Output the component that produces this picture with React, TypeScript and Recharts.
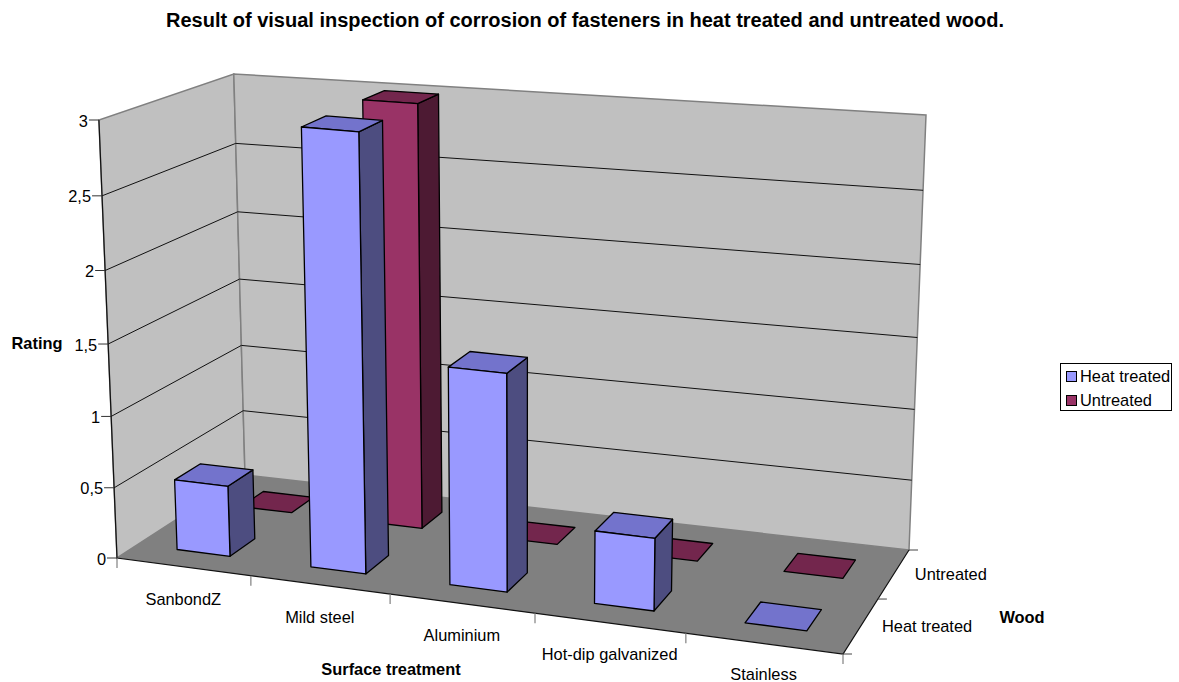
import React from "react";
import { BarChart, Bar, XAxis, YAxis, Legend, Customized } from "recharts";

const categories = ["SanbondZ", "Mild steel", "Aluminium", "Hot-dip galvanized", "Stainless"];
const heatTreated = [0.5, 3, 1.5, 0.5, 0];
const untreated = [0, 3, 0, 0, 0];
const ratingTicks = [0, 0.5, 1, 1.5, 2, 2.5, 3];
const woods = ["Heat treated", "Untreated"];

const chartData = categories.map((name, i) => ({
  name,
  heat: heatTreated[i],
  untreated: untreated[i],
}));

const WIDTH = 1179;
const HEIGHT = 682;
const FONT = "'Liberation Sans', Arial, sans-serif";
const FONT_SIZE = 16.4;
const MAX_RATING = 3;

// flat plot box that recharts scales into, it gets mapped onto the 3d box below
const PLOT = { left: 50, top: 50, width: 1000, height: 600 };
const AXIS_SIZE = 1;
const MARGIN = {
  left: PLOT.left - AXIS_SIZE,
  top: PLOT.top,
  right: WIDTH - PLOT.left - PLOT.width,
  bottom: HEIGHT - PLOT.top - PLOT.height - AXIS_SIZE,
};

type Pt = [number, number];

// corners go front-left, front-right, back-right, back-left
const FLOOR: Pt[] = [[117, 558], [843, 654], [909, 550], [245, 475]];
const BOX_HEIGHTS = [438, 465, 435, 401];
const VANISH: Pt = [523, 10400];
const HEIGHT_BEND = 1.047;
const WIDTH_BEND = 0.034;

function quadMap(q: Pt[]) {
  const [[x0, y0], [x1, y1], [x2, y2], [x3, y3]] = q;
  const dx1 = x1 - x2;
  const dx2 = x3 - x2;
  const dy1 = y1 - y2;
  const dy2 = y3 - y2;
  const sx = x0 - x1 + x2 - x3;
  const sy = y0 - y1 + y2 - y3;
  const den = dx1 * dy2 - dx2 * dy1;
  const g = (sx * dy2 - dx2 * sy) / den;
  const h = (dx1 * sy - sx * dy1) / den;
  return (u: number, d: number): Pt => {
    const w = g * u + h * d + 1;
    return [
      ((x1 - x0 + g * x1) * u + (x3 - x0 + h * x3) * d + x0) / w,
      ((y1 - y0 + g * y1) * u + (y3 - y0 + h * y3) * d + y0) / w,
    ];
  };
}

const floorAt = quadMap(FLOOR);

function project(u: number, d: number, rating: number): Pt {
  const raw = rating / MAX_RATING;
  const t = raw / (HEIGHT_BEND + (1 - HEIGHT_BEND) * raw);
  const [fx, fy] = floorAt(u + WIDTH_BEND * u * (1 - u), d);
  const [hA, hG, hE, hC] = BOX_HEIGHTS;
  const full = (hA * (1 - u) + hG * u) * (1 - d) + (hC * (1 - u) + hE * u) * d;
  const rise = full * t;
  return [fx + ((fx - VANISH[0]) / (VANISH[1] - fy)) * rise, fy - rise];
}

const pts = (list: Pt[]) => list.map((p) => `${p[0].toFixed(1)},${p[1].toFixed(1)}`).join(" ");

const labelStyle = { fontFamily: FONT, fontSize: FONT_SIZE, fill: "#000" };
const boldStyle = { ...labelStyle, fontWeight: 700 };

function Frame() {
  const wallLines = ratingTicks.filter((v) => v > 0 && v < MAX_RATING);
  const catTicks = categories.map((_, i) => i / categories.length).concat(1);
  return (
    <g>
      <polygon
        points={pts([project(0, 0, 0), project(0, 1, 0), project(0, 1, 3), project(0, 0, 3)])}
        fill="#C0C0C0"
        stroke="#808080"
        strokeWidth={1.5}
      />
      <polygon
        points={pts([project(0, 1, 0), project(1, 1, 0), project(1, 1, 3), project(0, 1, 3)])}
        fill="#C0C0C0"
        stroke="#808080"
        strokeWidth={1.5}
      />
      <polygon
        points={pts([project(0, 0, 0), project(1, 0, 0), project(1, 1, 0), project(0, 1, 0)])}
        fill="#808080"
      />
      <polyline
        points={pts([project(0, 0, 3), project(0, 0, 0), project(1, 0, 0), project(1, 1, 0)])}
        fill="none"
        stroke="#111"
        strokeWidth={1.2}
      />
      {wallLines.map((v) => (
        <polyline
          key={v}
          points={pts([project(0, 0, v), project(0, 1, v), project(1, 1, v)])}
          fill="none"
          stroke="#111"
          strokeWidth={1}
        />
      ))}
      {catTicks.map((u) => {
        const [x, y] = project(u, 0, 0);
        return <line key={u} x1={x} y1={y} x2={x} y2={y + 10} stroke="#808080" strokeWidth={1.2} />;
      })}
      {[0, 0.5, 1].map((d) => {
        const [x, y] = project(1, d, 0);
        return <line key={d} x1={x} y1={y} x2={x + 9} y2={y} stroke="#444" strokeWidth={1} />;
      })}
      {woods.map((name, i) => {
        const [x, y] = project(1, (i + 0.5) / woods.length, 0);
        return (
          <text key={name} x={x + 21} y={y} dominantBaseline="central" style={labelStyle}>
            {name}
          </text>
        );
      })}
      <text x={585} y={20} textAnchor="middle" dominantBaseline="central" style={{ ...boldStyle, fontSize: 20 }}>
        Result of visual inspection of corrosion of fasteners in heat treated and untreated wood.
      </text>
      <text x={37} y={343} textAnchor="middle" dominantBaseline="central" style={boldStyle}>
        Rating
      </text>
      <text x={391} y={669} textAnchor="middle" dominantBaseline="central" style={boldStyle}>
        Surface treatment
      </text>
      <text x={1022} y={617} textAnchor="middle" dominantBaseline="central" style={boldStyle}>
        Wood
      </text>
    </g>
  );
}

const RatingTick = ({ payload }: any) => {
  const [x, y] = project(0, 0, payload.value);
  return (
    <g>
      <line x1={x - 10} y1={y} x2={x} y2={y} stroke="#333" strokeWidth={1} />
      <text x={x - 11} y={y + 0.5} textAnchor="end" dominantBaseline="central" style={labelStyle}>
        {String(payload.value).replace(".", ",")}
      </text>
    </g>
  );
};

const CategoryTick = ({ x, payload }: any) => {
  const u = (x - PLOT.left) / PLOT.width;
  const [px, py] = project(u, 0, 0);
  return (
    <text x={px} y={py + 33 - 3 * u} textAnchor="middle" dominantBaseline="central" style={labelStyle}>
      {payload.value}
    </text>
  );
};

const palette: Record<string, { front: string; side: string; top: string }> = {
  heat: { front: "#9999FF", side: "#4D4D80", top: "#7373CC" },
  untreated: { front: "#993366", side: "#4D1A33", top: "#73264D" },
};

// depth range of each wood row on the floor, 0 is front edge, 1 is back wall
const rows: Record<string, [number, number]> = {
  heat: [0.15, 0.345],
  untreated: [0.65, 0.84],
};

const Bar3D = ({ x, y, width, height, dataKey }: any) => {
  const u0 = (x - PLOT.left) / PLOT.width;
  const u1 = (x + width - PLOT.left) / PLOT.width;
  const v = (MAX_RATING * (PLOT.top + PLOT.height - y)) / PLOT.height;
  const [d0, d1] = rows[dataKey];
  const c = palette[dataKey];
  const edge = { stroke: "#000", strokeWidth: 1.3, strokeLinejoin: "round" as const };
  const top = (
    <polygon
      points={pts([project(u0, d0, v), project(u1, d0, v), project(u1, d1, v), project(u0, d1, v)])}
      fill={c.top}
      {...edge}
    />
  );
  if (!height) return top;
  return (
    <g>
      <polygon
        points={pts([project(u1, d0, 0), project(u1, d1, 0), project(u1, d1, v), project(u1, d0, v)])}
        fill={c.side}
        {...edge}
      />
      {top}
      <polygon
        points={pts([project(u0, d0, 0), project(u1, d0, 0), project(u1, d0, v), project(u0, d0, v)])}
        fill={c.front}
        {...edge}
      />
    </g>
  );
};

const renderLegend = ({ payload }: any) => (
  <div
    style={{
      border: "1px solid #000",
      background: "#fff",
      width: 110,
      height: 46,
      boxSizing: "content-box",
      fontFamily: FONT,
      fontSize: FONT_SIZE,
      lineHeight: "24px",
      color: "#000",
    }}
  >
    {payload.map((item: any) => (
      <div key={item.value} style={{ display: "flex", alignItems: "center", height: 24, paddingLeft: 5 }}>
        <span
          style={{
            width: 9,
            height: 9,
            background: item.color,
            border: "1px solid #000",
            marginRight: 3,
          }}
        />
        {item.value}
      </div>
    ))}
  </div>
);

export default function App() {
  return (
    <div style={{ position: "absolute", left: 0, top: 0, width: WIDTH, height: HEIGHT, background: "#fff" }}>
      <BarChart
        width={WIDTH}
        height={HEIGHT}
        data={chartData}
        margin={MARGIN}
        barSize={80}
        barGap={-80}
      >
        <Customized component={Frame} />
        <XAxis
          dataKey="name"
          height={AXIS_SIZE}
          interval={0}
          axisLine={false}
          tickLine={false}
          tick={CategoryTick}
        />
        <YAxis
          width={AXIS_SIZE}
          domain={[0, MAX_RATING]}
          ticks={ratingTicks}
          axisLine={false}
          tickLine={false}
          tick={RatingTick}
        />
        <Legend
          layout="vertical"
          align="center"
          verticalAlign="middle"
          content={renderLegend}
          wrapperStyle={{ left: 1060, top: 363, width: 112, height: 48 }}
        />
        <Bar
          dataKey="untreated"
          name="Untreated"
          fill="#993366"
          shape={Bar3D}
          isAnimationActive={false}
        />
        <Bar
          dataKey="heat"
          name="Heat treated"
          fill="#9999FF"
          shape={Bar3D}
          isAnimationActive={false}
        />
      </BarChart>
    </div>
  );
}
